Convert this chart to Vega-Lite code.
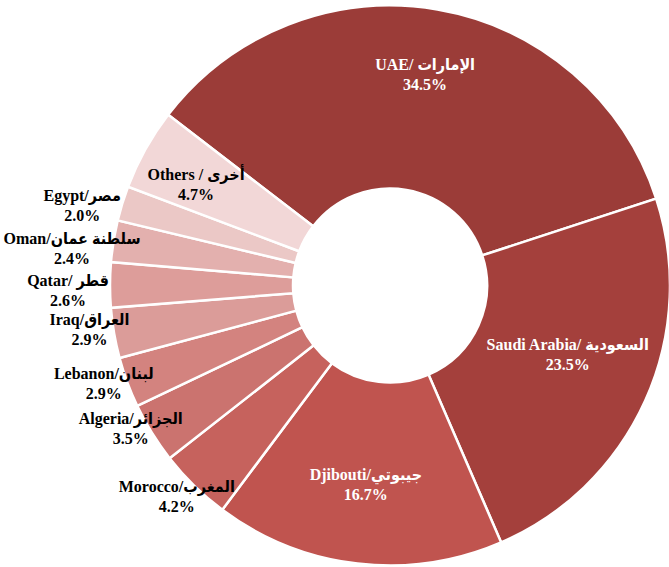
{
  "$schema": "https://vega.github.io/schema/vega-lite/v6.json",
  "autosize": "none",
  "width": 558,
  "height": 567,
  "padding": {"left": 111, "top": 2, "right": 0, "bottom": 0},
  "background": "white",
  "config": {
    "view": {"stroke": null},
    "text": {"font": "Liberation Serif, DejaVu Sans Condensed, DejaVu Sans", "fontWeight": "bold", "fontSize": 16, "lineBreak": "\n", "lineHeight": 20, "align": "center", "baseline": "middle"}
  },
  "data": {
    "values": [
      {"name": "UAE/ الإمارات", "pct": 34.5},
      {"name": "Saudi Arabia/ السعودية", "pct": 23.5},
      {"name": "Djibouti/جيبوتي", "pct": 16.7},
      {"name": "Morocco/المغرب", "pct": 4.2},
      {"name": "Algeria/الجزائر", "pct": 3.5},
      {"name": "Lebanon/لبنان", "pct": 2.9},
      {"name": "Iraq/العراق", "pct": 2.9},
      {"name": "Qatar/ قطر", "pct": 2.6},
      {"name": "Oman/سلطنة عمان", "pct": 2.4},
      {"name": "Egypt/مصر", "pct": 2.0},
      {"name": "Others / أخرى", "pct": 4.7}
    ]
  },
  "transform": [
    {"window": [{"op": "row_number", "as": "i"}]},
    {"calculate": "datum.name + '\\n' + format(datum.pct, '.1f') + '%'", "as": "full"}
  ],
  "encoding": {
    "theta": {"field": "pct", "type": "quantitative", "stack": true, "scale": {"range": [-0.9146, 5.3686]}},
    "order": {"field": "i", "type": "quantitative"}
  },
  "layer": [
    {
      "mark": {"type": "arc", "outerRadius": 280, "innerRadius": 97, "stroke": "white", "strokeWidth": 2.5},
      "encoding": {
        "color": {
          "field": "name", "type": "nominal", "legend": null,
          "scale": {
            "domain": ["UAE/ الإمارات", "Saudi Arabia/ السعودية", "Djibouti/جيبوتي", "Morocco/المغرب", "Algeria/الجزائر", "Lebanon/لبنان", "Iraq/العراق", "Qatar/ قطر", "Oman/سلطنة عمان", "Egypt/مصر", "Others / أخرى"],
            "range": ["#9B3C38", "#A4403C", "#C0544F", "#C6625D", "#CB736F", "#D3837F", "#DB9C99", "#DD9D9A", "#E3B0AE", "#EBC8C6", "#F2D7D7"]
          }
        }
      }
    },
    {
      "transform": [{"calculate": "datum.i == 1 || datum.i == 3 ? datum.full : ''", "as": "lab"}],
      "mark": {"type": "text", "radius": 207, "dy": -16, "color": "white"},
      "encoding": {"text": {"field": "lab", "type": "nominal"}}
    },
    {
      "transform": [{"calculate": "datum.i == 2 ? datum.full : ''", "as": "lab"}],
      "mark": {"type": "text", "radius": 195, "dy": -21, "color": "white"},
      "encoding": {"text": {"field": "lab", "type": "nominal"}}
    },
    {
      "transform": [{"calculate": "datum.i == 11 ? datum.full : ''", "as": "lab"}],
      "mark": {"type": "text", "radius": 222, "dy": -2, "color": "black"},
      "encoding": {"text": {"field": "lab", "type": "nominal"}}
    },
    {
      "transform": [{"calculate": "datum.i == 9 || datum.i == 10 ? datum.full : ''", "as": "lab"}],
      "mark": {"type": "text", "radius": 322, "dy": 5, "color": "black"},
      "encoding": {"text": {"field": "lab", "type": "nominal"}}
    },
    {
      "transform": [{"calculate": "datum.i == 8 ? datum.full : ''", "as": "lab"}],
      "mark": {"type": "text", "radius": 322, "dy": -4, "color": "black"},
      "encoding": {"text": {"field": "lab", "type": "nominal"}}
    },
    {
      "transform": [{"calculate": "datum.i == 4 || datum.i == 6 || datum.i == 7 ? datum.full : ''", "as": "lab"}],
      "mark": {"type": "text", "radius": 305, "dy": -17, "color": "black"},
      "encoding": {"text": {"field": "lab", "type": "nominal"}}
    },
    {
      "transform": [{"calculate": "datum.i == 5 ? datum.full : ''", "as": "lab"}],
      "mark": {"type": "text", "radius": 305, "dy": -27, "color": "black"},
      "encoding": {"text": {"field": "lab", "type": "nominal"}}
    }
  ]
}
